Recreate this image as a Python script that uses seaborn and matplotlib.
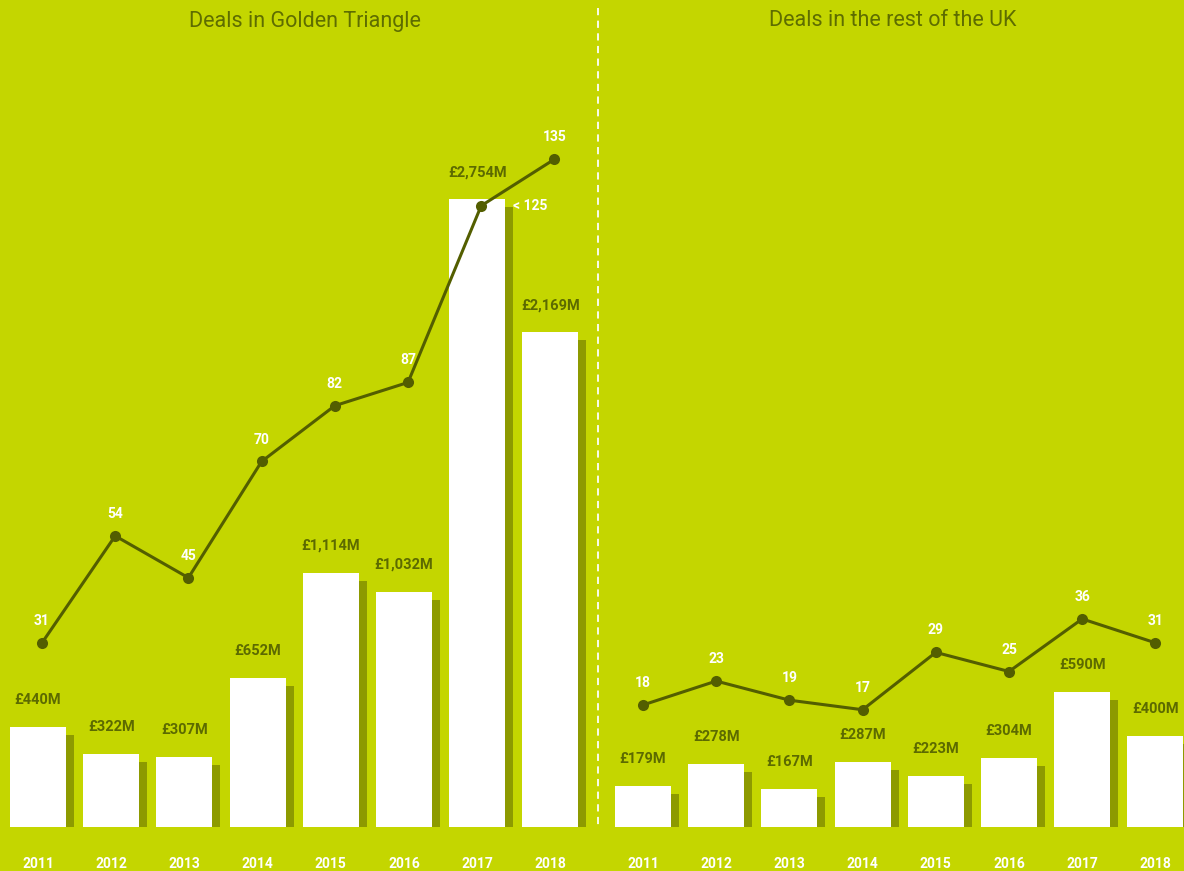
import numpy as np
import pandas as pd
import matplotlib.pyplot as plt
import seaborn as sns
from matplotlib.lines import Line2D

# --- data ---
years = ["2011", "2012", "2013", "2014", "2015", "2016", "2017", "2018"]

gt_value = [440, 322, 307, 652, 1114, 1032, 2754, 2169]      # £M
gt_deals = [31, 54, 45, 70, 82, 87, 125, 135]
gt_deal_text = ["31", "54", "45", "70", "82", "87", "< 125", "135"]

uk_value = [179, 278, 167, 287, 223, 304, 590, 400]           # £M
uk_deals = [18, 23, 19, 17, 29, 25, 36, 31]
uk_deal_text = ["18", "23", "19", "17", "29", "25", "36", "31"]

titles = ["Deals in Golden Triangle", "Deals in the rest of the UK"]

# --- style ---
BG = "#C4D600"
SHADOW = "#8D9A00"
LINE = "#535E00"
VALUE_TXT = "#5C6A00"
TITLE_TXT = "#5E6D00"

sns.set_theme(style="white")
plt.rcParams["font.family"] = ["Roboto", "DejaVu Sans"]

W, H = 1184, 871
SPACING = 73.2          # px between bar centres
BASE = 827              # px of bar baseline (from top)
PX_PER_M = 0.228        # px per £M


def draw_panel(fig, left_px, right_px, first_px, values, deals, deal_text,
               title, line_zero_px, px_per_deal, title_x, line_shift=0):
    ax = fig.add_axes([left_px / W, 0, (right_px - left_px) / W, 1])
    ax.set_facecolor("none")
    pos = np.arange(len(values))
    df = pd.DataFrame({"pos": pos, "value": values, "year": years})
    shadow = pd.DataFrame({"pos": pos + 8 / SPACING,
                           "value": np.array(values) - 8 / PX_PER_M})

    sns.barplot(data=shadow, x="pos", y="value", native_scale=True, width=56 / SPACING,
                color=SHADOW, saturation=1, errorbar=None, ax=ax, zorder=1, linewidth=0)
    sns.barplot(data=df, x="pos", y="value", native_scale=True, width=56 / SPACING,
                color="white", saturation=1, errorbar=None, ax=ax, zorder=2, linewidth=0)

    ax.set_xlim((left_px - first_px) / SPACING, (right_px - first_px) / SPACING)
    ax.set_ylim(-(H - BASE) / PX_PER_M, BASE / PX_PER_M)
    ax.axis("off")

    for p, v in zip(pos, values):
        ax.text(p, v + 27 / PX_PER_M, f"£{v:,}M", ha="center", va="center",
                color=VALUE_TXT, fontsize=10.5, fontweight="bold", zorder=5)
    for p, y in zip(pos, years):
        ax.text(p, -(864 - BASE) / PX_PER_M, y, ha="center", va="center",
                color="white", fontsize=10, fontweight="bold")

    ax2 = ax.twinx()
    ax2.set_facecolor("none")
    lpos = pos + line_shift / SPACING
    sns.lineplot(x=lpos, y=deals, ax=ax2, color=LINE, linewidth=2.2, marker="o",
                 markersize=8, markeredgewidth=0, zorder=4)
    ax2.set_ylim((line_zero_px - H) / px_per_deal, line_zero_px / px_per_deal)
    ax2.set_xlim(ax.get_xlim())
    ax2.axis("off")

    for p, d, t in zip(lpos, deals, deal_text):
        if t.startswith("<"):
            ax2.text(p + 32 / SPACING, d, t, ha="left", va="center",
                     color="white", fontsize=10, fontweight="bold", zorder=6)
        else:
            ax2.text(p, d + 22 / px_per_deal, t, ha="center", va="center",
                     color="white", fontsize=10, fontweight="bold", zorder=6)

    fig.text(title_x / W, 1 - 21 / H, title, ha="center", va="center",
             color=TITLE_TXT, fontsize=15.5, fontweight="normal")
    return ax


fig = plt.figure(figsize=(W / 100, H / 100), dpi=100, facecolor=BG)

draw_panel(fig, 0, 597, 38, gt_value, gt_deals, gt_deal_text, titles[0], 787, 4.65, 305,
           line_shift=4)
draw_panel(fig, 600, 1184, 643, uk_value, uk_deals, uk_deal_text, titles[1], 791, 4.78, 893)

fig.add_artist(Line2D([598 / W, 598 / W], [1 - 8 / H, 1 - 827 / H], transform=fig.transFigure,
                      color="white", linewidth=1.3, linestyle=(0, (4, 3))))

fig.savefig("out.png", dpi=100, facecolor=BG)
